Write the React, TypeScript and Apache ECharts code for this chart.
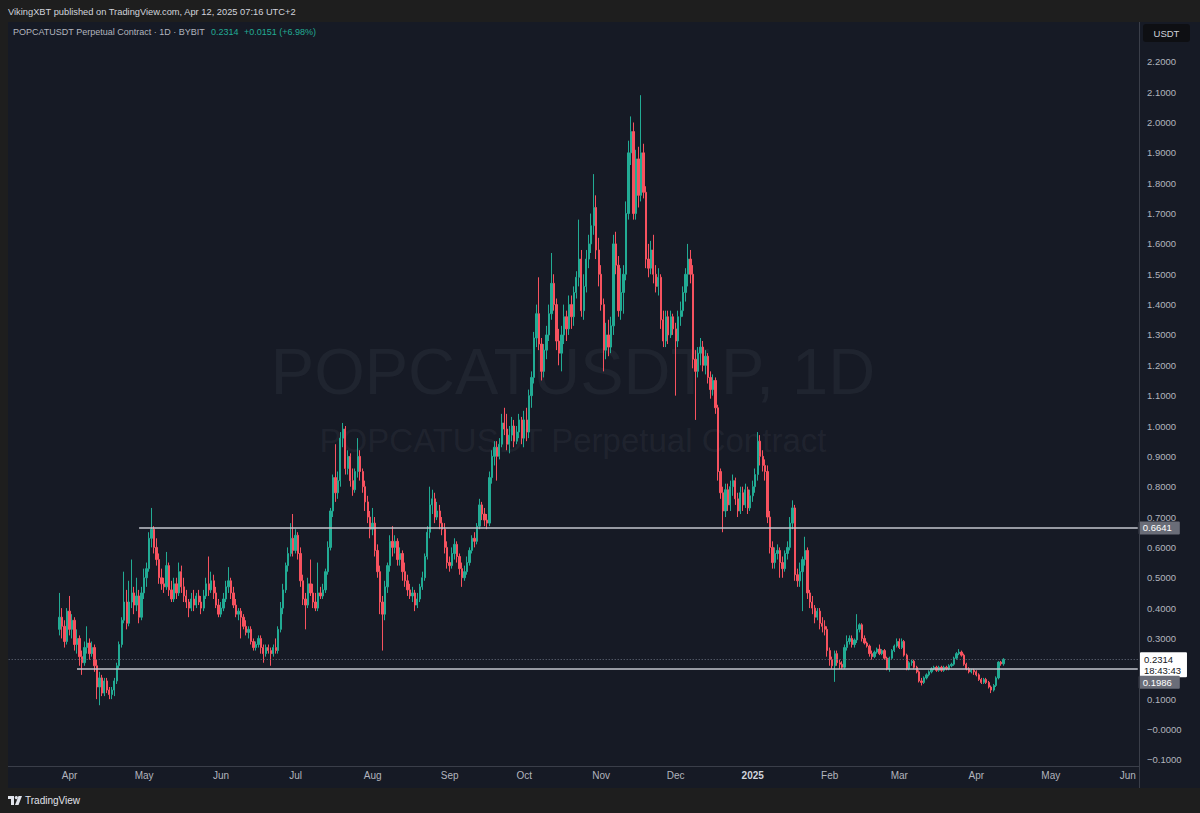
import React, { useEffect, useRef } from 'react';
import * as echarts from 'echarts';

// ---------- DATA (daily candles: [open, close, low, high]) ----------
const mar2024 = [
  [0.33, 0.37, 0.31, 0.45], [0.37, 0.34, 0.30, 0.40], [0.34, 0.29, 0.27, 0.36], [0.29, 0.39, 0.28, 0.40],
];
const apr2024 = [
  [0.39, 0.33, 0.31, 0.44], [0.33, 0.36, 0.30, 0.38], [0.36, 0.28, 0.26, 0.37], [0.28, 0.30, 0.25, 0.33],
  [0.30, 0.24, 0.21, 0.31], [0.24, 0.22, 0.18, 0.26], [0.22, 0.27, 0.21, 0.29], [0.27, 0.285, 0.25, 0.34],
  [0.285, 0.25, 0.23, 0.30], [0.25, 0.27, 0.24, 0.29], [0.27, 0.21, 0.19, 0.28], [0.21, 0.14, 0.10, 0.23],
  [0.14, 0.17, 0.08, 0.19], [0.17, 0.12, 0.11, 0.18], [0.12, 0.16, 0.11, 0.17], [0.16, 0.13, 0.12, 0.17],
  [0.13, 0.115, 0.10, 0.14], [0.115, 0.13, 0.10, 0.14], [0.13, 0.16, 0.11, 0.17], [0.16, 0.21, 0.15, 0.22],
  [0.21, 0.28, 0.20, 0.29], [0.28, 0.36, 0.27, 0.37], [0.36, 0.42, 0.35, 0.52], [0.42, 0.35, 0.33, 0.46],
  [0.35, 0.42, 0.34, 0.49], [0.42, 0.45, 0.40, 0.56], [0.45, 0.41, 0.38, 0.47], [0.41, 0.44, 0.39, 0.50],
  [0.44, 0.37, 0.35, 0.46], [0.37, 0.45, 0.36, 0.47],
];
const may2024 = [
  [0.45, 0.50, 0.43, 0.53], [0.50, 0.53, 0.47, 0.55], [0.53, 0.63, 0.52, 0.65], [0.63, 0.66, 0.60, 0.73],
  [0.66, 0.60, 0.58, 0.67], [0.60, 0.56, 0.54, 0.63], [0.56, 0.50, 0.48, 0.58], [0.50, 0.48, 0.46, 0.53],
  [0.48, 0.47, 0.45, 0.50], [0.47, 0.54, 0.46, 0.585], [0.54, 0.46, 0.44, 0.55], [0.46, 0.43, 0.42, 0.49],
  [0.43, 0.48, 0.42, 0.50], [0.48, 0.45, 0.43, 0.50], [0.45, 0.52, 0.44, 0.55], [0.52, 0.47, 0.45, 0.54],
  [0.47, 0.44, 0.42, 0.50], [0.44, 0.42, 0.40, 0.46], [0.42, 0.40, 0.37, 0.43], [0.40, 0.43, 0.39, 0.45],
  [0.43, 0.41, 0.39, 0.46], [0.41, 0.44, 0.40, 0.45], [0.44, 0.42, 0.41, 0.46], [0.42, 0.40, 0.38, 0.44],
  [0.40, 0.44, 0.39, 0.46], [0.44, 0.48, 0.43, 0.50], [0.48, 0.46, 0.44, 0.57], [0.46, 0.49, 0.45, 0.52],
  [0.49, 0.45, 0.43, 0.51], [0.45, 0.41, 0.40, 0.47], [0.41, 0.38, 0.37, 0.43],
];
const jun2024 = [
  [0.38, 0.40, 0.37, 0.42], [0.40, 0.43, 0.39, 0.45], [0.43, 0.47, 0.42, 0.49], [0.47, 0.49, 0.45, 0.535],
  [0.49, 0.45, 0.43, 0.50], [0.45, 0.41, 0.40, 0.47], [0.41, 0.38, 0.37, 0.43], [0.38, 0.39, 0.36, 0.40],
  [0.39, 0.37, 0.30, 0.40], [0.37, 0.34, 0.33, 0.38], [0.34, 0.32, 0.31, 0.36], [0.32, 0.33, 0.30, 0.34],
  [0.33, 0.29, 0.28, 0.34], [0.29, 0.27, 0.26, 0.30], [0.27, 0.28, 0.26, 0.29], [0.28, 0.30, 0.27, 0.31],
  [0.30, 0.27, 0.25, 0.31], [0.27, 0.25, 0.22, 0.28], [0.25, 0.27, 0.24, 0.28], [0.27, 0.26, 0.25, 0.28],
  [0.26, 0.25, 0.21, 0.27], [0.25, 0.27, 0.24, 0.28], [0.27, 0.26, 0.25, 0.30], [0.26, 0.33, 0.25, 0.34],
  [0.33, 0.40, 0.32, 0.42], [0.40, 0.46, 0.38, 0.48], [0.46, 0.54, 0.45, 0.55], [0.54, 0.58, 0.52, 0.60],
  [0.58, 0.63, 0.57, 0.68], [0.63, 0.59, 0.57, 0.71],
];
const jul2024 = [
  [0.59, 0.64, 0.58, 0.66], [0.64, 0.58, 0.56, 0.65], [0.58, 0.49, 0.47, 0.60], [0.49, 0.43, 0.41, 0.51],
  [0.43, 0.41, 0.33, 0.45], [0.41, 0.48, 0.40, 0.50], [0.48, 0.45, 0.44, 0.56], [0.45, 0.42, 0.40, 0.48],
  [0.42, 0.40, 0.39, 0.45], [0.40, 0.45, 0.39, 0.55], [0.45, 0.44, 0.43, 0.47], [0.44, 0.46, 0.43, 0.48],
  [0.46, 0.52, 0.45, 0.53], [0.52, 0.60, 0.51, 0.62], [0.60, 0.72, 0.59, 0.73], [0.72, 0.83, 0.70, 0.84],
  [0.83, 0.78, 0.75, 0.94], [0.78, 0.82, 0.76, 0.85], [0.82, 0.96, 0.80, 0.98], [0.96, 0.99, 0.93, 1.01],
  [0.99, 0.86, 0.84, 1.00], [0.86, 0.90, 0.84, 0.92], [0.90, 0.82, 0.80, 0.91], [0.82, 0.79, 0.77, 0.86],
  [0.79, 0.85, 0.78, 0.86], [0.85, 0.90, 0.83, 0.96], [0.90, 0.85, 0.82, 0.92], [0.85, 0.80, 0.78, 0.86],
  [0.80, 0.75, 0.72, 0.82], [0.75, 0.70, 0.68, 0.77], [0.70, 0.66, 0.63, 0.72],
];
const aug2024 = [
  [0.66, 0.68, 0.64, 0.73], [0.68, 0.59, 0.57, 0.70], [0.59, 0.52, 0.50, 0.61], [0.52, 0.42, 0.38, 0.54],
  [0.42, 0.38, 0.26, 0.44], [0.38, 0.47, 0.36, 0.49], [0.47, 0.54, 0.45, 0.55], [0.54, 0.62, 0.52, 0.64],
  [0.62, 0.60, 0.57, 0.67], [0.60, 0.62, 0.58, 0.64], [0.62, 0.56, 0.54, 0.63], [0.56, 0.58, 0.54, 0.60],
  [0.58, 0.52, 0.49, 0.59], [0.52, 0.49, 0.47, 0.55], [0.49, 0.46, 0.44, 0.51], [0.46, 0.44, 0.43, 0.48],
  [0.44, 0.45, 0.42, 0.47], [0.45, 0.41, 0.39, 0.46], [0.41, 0.43, 0.40, 0.45], [0.43, 0.47, 0.42, 0.48],
  [0.47, 0.50, 0.46, 0.52], [0.50, 0.57, 0.49, 0.58], [0.57, 0.65, 0.56, 0.67], [0.65, 0.74, 0.63, 0.80],
  [0.74, 0.76, 0.71, 0.79], [0.76, 0.70, 0.68, 0.78], [0.70, 0.72, 0.69, 0.75], [0.72, 0.68, 0.66, 0.74],
  [0.68, 0.66, 0.64, 0.70], [0.66, 0.60, 0.58, 0.68], [0.60, 0.55, 0.53, 0.62],
];
const sep2024 = [
  [0.55, 0.54, 0.52, 0.57], [0.54, 0.58, 0.53, 0.60], [0.58, 0.61, 0.56, 0.63], [0.61, 0.57, 0.55, 0.62],
  [0.57, 0.53, 0.51, 0.58], [0.53, 0.50, 0.47, 0.55], [0.50, 0.52, 0.49, 0.54], [0.52, 0.55, 0.51, 0.57],
  [0.55, 0.59, 0.54, 0.60], [0.59, 0.63, 0.58, 0.64], [0.63, 0.62, 0.60, 0.65], [0.62, 0.67, 0.61, 0.68],
  [0.67, 0.74, 0.66, 0.76], [0.74, 0.71, 0.69, 0.75], [0.71, 0.69, 0.67, 0.73], [0.69, 0.68, 0.66, 0.71],
  [0.68, 0.83, 0.67, 0.85], [0.83, 0.90, 0.81, 0.92], [0.90, 0.93, 0.87, 0.95], [0.93, 0.90, 0.82, 0.95],
  [0.90, 0.94, 0.89, 0.96], [0.94, 1.01, 0.93, 1.04], [1.01, 0.99, 0.97, 1.06], [0.99, 0.94, 0.92, 1.04],
  [0.94, 0.97, 0.91, 1.00], [0.97, 1.00, 0.95, 1.03], [1.00, 0.95, 0.93, 1.02], [0.95, 0.98, 0.94, 1.00],
  [0.98, 1.02, 0.96, 1.04], [1.02, 0.96, 0.94, 1.03],
];
const oct2024 = [
  [0.96, 1.02, 0.93, 1.05], [1.02, 0.98, 0.95, 1.06], [0.98, 1.10, 0.96, 1.12], [1.10, 1.16, 1.06, 1.18],
  [1.16, 1.29, 1.14, 1.31], [1.29, 1.37, 1.26, 1.40], [1.37, 1.27, 1.25, 1.49], [1.27, 1.18, 1.15, 1.29],
  [1.18, 1.25, 1.16, 1.27], [1.25, 1.30, 1.22, 1.33], [1.30, 1.37, 1.28, 1.40], [1.37, 1.47, 1.35, 1.57],
  [1.47, 1.40, 1.38, 1.50], [1.40, 1.28, 1.25, 1.42], [1.28, 1.24, 1.20, 1.32], [1.24, 1.30, 1.18, 1.33],
  [1.30, 1.36, 1.27, 1.40], [1.36, 1.32, 1.28, 1.38], [1.32, 1.40, 1.30, 1.43], [1.40, 1.36, 1.32, 1.43],
  [1.36, 1.44, 1.33, 1.46], [1.44, 1.49, 1.42, 1.51], [1.49, 1.55, 1.46, 1.68], [1.55, 1.38, 1.36, 1.58],
  [1.38, 1.46, 1.35, 1.50], [1.46, 1.55, 1.44, 1.58], [1.55, 1.60, 1.52, 1.63], [1.60, 1.66, 1.57, 1.70],
  [1.66, 1.72, 1.63, 1.83], [1.72, 1.58, 1.55, 1.76], [1.58, 1.50, 1.46, 1.62],
];
const nov2024 = [
  [1.50, 1.40, 1.38, 1.53], [1.40, 1.25, 1.18, 1.42], [1.25, 1.30, 1.22, 1.34], [1.30, 1.26, 1.23, 1.35],
  [1.26, 1.33, 1.24, 1.36], [1.33, 1.60, 1.30, 1.63], [1.60, 1.53, 1.50, 1.64], [1.53, 1.38, 1.36, 1.56],
  [1.38, 1.44, 1.35, 1.52], [1.44, 1.50, 1.37, 1.53], [1.50, 1.70, 1.48, 1.74], [1.70, 1.90, 1.68, 1.94],
  [1.90, 1.97, 1.86, 2.02], [1.97, 1.70, 1.68, 2.00], [1.70, 1.88, 1.68, 1.91], [1.88, 1.76, 1.72, 1.92],
  [1.76, 1.90, 1.74, 2.09], [1.90, 1.77, 1.75, 1.93], [1.77, 1.55, 1.52, 1.79], [1.55, 1.52, 1.49, 1.60],
  [1.52, 1.58, 1.50, 1.61], [1.58, 1.50, 1.47, 1.63], [1.50, 1.46, 1.44, 1.53], [1.46, 1.49, 1.43, 1.52],
  [1.49, 1.35, 1.32, 1.50], [1.35, 1.28, 1.26, 1.38], [1.28, 1.36, 1.26, 1.38], [1.36, 1.30, 1.27, 1.38],
  [1.30, 1.36, 1.29, 1.38], [1.36, 1.32, 1.30, 1.37],
];
const dec2024 = [
  [1.32, 1.28, 1.10, 1.34], [1.28, 1.36, 1.26, 1.38], [1.36, 1.38, 1.33, 1.41], [1.38, 1.44, 1.36, 1.46],
  [1.44, 1.50, 1.41, 1.52], [1.50, 1.55, 1.46, 1.60], [1.55, 1.50, 1.47, 1.58], [1.50, 1.22, 1.19, 1.53],
  [1.22, 1.18, 1.02, 1.25], [1.18, 1.24, 1.16, 1.26], [1.24, 1.26, 1.20, 1.29], [1.26, 1.20, 1.18, 1.28],
  [1.20, 1.23, 1.17, 1.25], [1.23, 1.16, 1.14, 1.24], [1.16, 1.12, 1.09, 1.18], [1.12, 1.15, 1.10, 1.17],
  [1.15, 1.06, 1.04, 1.16], [1.06, 0.85, 0.82, 1.07], [0.85, 0.78, 0.76, 0.86], [0.78, 0.72, 0.65, 0.80],
  [0.72, 0.79, 0.70, 0.81], [0.79, 0.74, 0.72, 0.81], [0.74, 0.80, 0.72, 0.82], [0.80, 0.82, 0.77, 0.84],
  [0.82, 0.76, 0.74, 0.83], [0.76, 0.72, 0.70, 0.78], [0.72, 0.78, 0.71, 0.80], [0.78, 0.74, 0.72, 0.80],
  [0.74, 0.79, 0.73, 0.81], [0.79, 0.73, 0.71, 0.80], [0.73, 0.77, 0.72, 0.79],
];
const jan2025 = [
  [0.77, 0.80, 0.75, 0.82], [0.80, 0.84, 0.78, 0.86], [0.84, 0.95, 0.82, 0.98], [0.95, 0.90, 0.87, 0.97],
  [0.90, 0.87, 0.85, 0.92], [0.87, 0.85, 0.82, 0.89], [0.85, 0.70, 0.68, 0.87], [0.70, 0.60, 0.58, 0.72],
  [0.60, 0.55, 0.53, 0.62], [0.55, 0.58, 0.53, 0.60], [0.58, 0.59, 0.56, 0.61], [0.59, 0.55, 0.50, 0.60],
  [0.55, 0.53, 0.50, 0.57], [0.53, 0.58, 0.52, 0.59], [0.58, 0.60, 0.56, 0.62], [0.60, 0.68, 0.59, 0.70],
  [0.68, 0.73, 0.66, 0.755], [0.73, 0.51, 0.49, 0.74], [0.51, 0.49, 0.47, 0.53], [0.49, 0.52, 0.47, 0.55],
  [0.52, 0.56, 0.39, 0.57], [0.56, 0.59, 0.54, 0.635], [0.59, 0.45, 0.43, 0.60], [0.45, 0.42, 0.40, 0.46],
  [0.42, 0.40, 0.38, 0.44], [0.40, 0.37, 0.35, 0.41], [0.37, 0.39, 0.36, 0.40], [0.39, 0.35, 0.33, 0.40],
  [0.35, 0.34, 0.32, 0.37], [0.34, 0.33, 0.31, 0.36], [0.33, 0.26, 0.24, 0.34],
];
const feb2025 = [
  [0.26, 0.23, 0.21, 0.27], [0.23, 0.21, 0.20, 0.24], [0.21, 0.25, 0.157, 0.26], [0.25, 0.22, 0.21, 0.26],
  [0.22, 0.215, 0.20, 0.23], [0.215, 0.205, 0.20, 0.225], [0.205, 0.27, 0.20, 0.28], [0.27, 0.29, 0.26, 0.31],
  [0.29, 0.30, 0.28, 0.31], [0.30, 0.28, 0.27, 0.31], [0.28, 0.295, 0.27, 0.30], [0.295, 0.33, 0.285, 0.38],
  [0.33, 0.345, 0.32, 0.35], [0.345, 0.30, 0.29, 0.35], [0.30, 0.285, 0.28, 0.31], [0.285, 0.275, 0.27, 0.29],
  [0.275, 0.25, 0.24, 0.28], [0.25, 0.24, 0.23, 0.26], [0.24, 0.255, 0.235, 0.26], [0.255, 0.265, 0.25, 0.27],
  [0.265, 0.25, 0.245, 0.28], [0.25, 0.26, 0.245, 0.265], [0.26, 0.235, 0.23, 0.265], [0.235, 0.20, 0.195, 0.24],
  [0.20, 0.235, 0.19, 0.24], [0.235, 0.26, 0.23, 0.265], [0.26, 0.275, 0.255, 0.28], [0.275, 0.29, 0.27, 0.30],
];
const mar2025 = [
  [0.29, 0.27, 0.265, 0.30], [0.27, 0.29, 0.265, 0.30], [0.29, 0.245, 0.24, 0.295], [0.245, 0.20, 0.195, 0.25],
  [0.20, 0.22, 0.195, 0.225], [0.22, 0.225, 0.21, 0.23], [0.225, 0.205, 0.20, 0.23], [0.205, 0.19, 0.185, 0.21],
  [0.19, 0.16, 0.155, 0.195], [0.16, 0.155, 0.145, 0.17], [0.155, 0.17, 0.15, 0.175], [0.17, 0.18, 0.165, 0.185],
  [0.18, 0.19, 0.175, 0.195], [0.19, 0.20, 0.185, 0.205], [0.20, 0.205, 0.195, 0.21], [0.205, 0.195, 0.19, 0.21],
  [0.195, 0.205, 0.19, 0.21], [0.205, 0.195, 0.19, 0.21], [0.195, 0.205, 0.19, 0.21], [0.205, 0.20, 0.195, 0.21],
  [0.20, 0.21, 0.195, 0.215], [0.21, 0.215, 0.205, 0.22], [0.215, 0.235, 0.21, 0.24], [0.235, 0.25, 0.23, 0.255],
  [0.25, 0.255, 0.245, 0.265], [0.255, 0.245, 0.24, 0.26], [0.245, 0.215, 0.21, 0.25], [0.215, 0.20, 0.195, 0.22],
  [0.20, 0.19, 0.185, 0.205], [0.19, 0.195, 0.185, 0.20], [0.195, 0.19, 0.18, 0.20],
];
const apr2025 = [
  [0.19, 0.18, 0.175, 0.195], [0.18, 0.165, 0.16, 0.185], [0.165, 0.155, 0.15, 0.17], [0.155, 0.165, 0.15, 0.17],
  [0.165, 0.155, 0.15, 0.17], [0.155, 0.14, 0.135, 0.16], [0.14, 0.13, 0.12, 0.145], [0.13, 0.145, 0.125, 0.15],
  [0.145, 0.17, 0.14, 0.175], [0.17, 0.222, 0.165, 0.225], [0.222, 0.2163, 0.21, 0.226], [0.2163, 0.2314, 0.21, 0.235],
];
const monthBlocks: [string, number[][]][] = [
  ['2024-03-28', mar2024], ['2024-04-01', apr2024], ['2024-05-01', may2024], ['2024-06-01', jun2024],
  ['2024-07-01', jul2024], ['2024-08-01', aug2024], ['2024-09-01', sep2024], ['2024-10-01', oct2024],
  ['2024-11-01', nov2024], ['2024-12-01', dec2024], ['2025-01-01', jan2025], ['2025-02-01', feb2025],
  ['2025-03-01', mar2025], ['2025-04-01', apr2025],
];

const axisStart = '2024-03-08';
const axisDayCount = 455;
const monthLabels = ['Jan', 'Feb', 'Mar', 'Apr', 'May', 'Jun', 'Jul', 'Aug', 'Sep', 'Oct', 'Nov', 'Dec'];

const levelHigh = 0.6641;
const levelHighFrom = '2024-04-29';
const levelLow = 0.1986;
const levelLowFrom = '2024-04-04';
const lastPrice = 0.2314;
const lastChange = '+0.0151 (+6.98%)';
const countdown = '18:43:43';
const hiddenTicks = [0.2]; // tick label covered by the price boxes in the original

const yMin = -0.1;
const yMax = 2.2;
const yStep = 0.1;

const UP = '#22ab94';
const DOWN = '#f7525f';
const FONT = '"Liberation Sans", Arial, sans-serif';

const DAY = 86400000;

function buildCategories(): string[] {
  const s = Date.parse(axisStart + 'T00:00:00Z');
  const out: string[] = [];
  for (let i = 0; i < axisDayCount; i++) out.push(new Date(s + i * DAY).toISOString().slice(0, 10));
  return out;
}

function dayIndex(dateStr: string): number {
  const s = Date.parse(axisStart + 'T00:00:00Z');
  return Math.round((Date.parse(dateStr + 'T00:00:00Z') - s) / DAY);
}

function buildCandles(): number[][] {
  const out: number[][] = [];
  monthBlocks.forEach(([start, rows]) => {
    const base = dayIndex(start);
    rows.forEach((r, i) => out.push([base + i, r[0], r[1], r[2], r[3]]));
  });
  return out;
}

export default function App() {
  const ref = useRef<HTMLDivElement>(null);

  useEffect(() => {
    if (!ref.current) return;
    const chart = echarts.init(ref.current, undefined, { renderer: 'svg' });
    const categories = buildCategories();
    const candles = buildCandles();
    const lastIdx = categories.length - 1;

    const tvLogo = [
      { type: 'rect', shape: { x: 8, y: 796, width: 6, height: 3 }, style: { fill: '#e0e3eb' }, z: 10 },
      { type: 'rect', shape: { x: 11, y: 796, width: 3, height: 9 }, style: { fill: '#e0e3eb' }, z: 10 },
      { type: 'circle', shape: { cx: 16.3, cy: 797.6, r: 1.6 }, style: { fill: '#e0e3eb' }, z: 10 },
      { type: 'polygon', shape: { points: [[18.5, 796], [22, 796], [18.5, 805], [15, 805]] }, style: { fill: '#e0e3eb' }, z: 10 },
    ];

    const option: any = {
      animation: false,
      backgroundColor: '#161a25',
      textStyle: { fontFamily: FONT },
      grid: { left: 8.7, right: 61, top: 61.8, bottom: 53.15, containLabel: false },
      xAxis: {
        type: 'category',
        data: categories,
        boundaryGap: true,
        axisLine: { show: false },
        axisTick: { show: false },
        splitLine: { show: false },
        axisLabel: {
          interval: (_i: number, v: string) => v.slice(8, 10) === '01',
          margin: 11,
          color: '#b2b5be',
          fontSize: 10,
          fontFamily: FONT,
          formatter: (v: string) => {
            const m = parseInt(v.slice(5, 7), 10) - 1;
            if (m === 0) return '{b|' + v.slice(0, 4) + '}';
            return monthLabels[m];
          },
          rich: { b: { fontWeight: 'bold', color: '#d1d4dc', fontSize: 10, fontFamily: FONT } },
        },
      },
      yAxis: {
        type: 'value',
        position: 'right',
        min: yMin,
        max: yMax,
        interval: yStep,
        scale: false,
        axisLine: { show: false },
        axisTick: { show: false },
        splitLine: { show: false },
        axisLabel: {
          margin: 8,
          color: '#b2b5be',
          fontSize: 9.5,
          fontFamily: FONT,
          formatter: (v: number) => {
            if (hiddenTicks.some((h) => Math.abs(h - v) < 1e-9)) return '';
            if (Math.abs(v) < 1e-9) return '\u22120.0000';
            if (v < 0) return '\u2212' + Math.abs(v).toFixed(4);
            return v.toFixed(4);
          },
        },
      },
      series: [
        {
          type: 'candlestick',
          data: candles,
          encode: { x: 0, y: [1, 2, 3, 4] },
          barWidth: '72%',
          z: 3,
          itemStyle: { color: UP, color0: DOWN, borderColor: UP, borderColor0: DOWN, borderWidth: 1 },
          markLine: {
            symbol: ['none', 'none'],
            silent: true,
            z: 4,
            data: [
              { yAxis: lastPrice,
                lineStyle: { type: [1, 2], color: '#6b7280', width: 1 },
                label: { show: true, position: 'end', distance: 1, formatter: lastPrice.toFixed(4) + '\n' + countdown,
                  backgroundColor: '#ffffff', color: '#131722', fontSize: 9.5, lineHeight: 11, fontFamily: FONT,
                  padding: [2, 6, 1, 4], borderRadius: 1, offset: [0, 5] } },
              [
                { coord: [dayIndex(levelHighFrom), levelHigh],
                  lineStyle: { type: 'solid', color: '#c3c6ce', width: 1.5 },
                  label: { show: true, position: 'end', distance: 1, formatter: levelHigh.toFixed(4),
                    backgroundColor: '#6a6d78', color: '#ffffff', fontSize: 9.5, fontFamily: FONT,
                    padding: [2, 8, 1, 4], borderRadius: 1 } },
                { coord: [lastIdx, levelHigh] },
              ],
              [
                { coord: [dayIndex(levelLowFrom), levelLow],
                  lineStyle: { type: 'solid', color: '#c3c6ce', width: 1.5 },
                  label: { show: true, position: 'end', distance: 1, formatter: levelLow.toFixed(4),
                    backgroundColor: '#6a6d78', color: '#ffffff', fontSize: 9.5, fontFamily: FONT,
                    padding: [2, 8, 1, 4], borderRadius: 1, offset: [0, 13] } },
                { coord: [lastIdx, levelLow] },
              ],
            ],
          },
        },
      ],
      graphic: [
        // frame strips
        { type: 'rect', shape: { x: 0, y: 0, width: 1200, height: 22 }, style: { fill: '#1e1e1e' }, z: 1 },
        { type: 'rect', shape: { x: 0, y: 22, width: 8, height: 766 }, style: { fill: '#1e1e1e' }, z: 1 },
        { type: 'rect', shape: { x: 0, y: 788, width: 1200, height: 25 }, style: { fill: '#1e1e1e' }, z: 1 },
        // separators
        { type: 'line', shape: { x1: 8, y1: 766.5, x2: 1139, y2: 766.5 }, style: { stroke: '#3a3e49', lineWidth: 1 }, z: 5 },
        { type: 'line', shape: { x1: 1139.5, y1: 22, x2: 1139.5, y2: 788 }, style: { stroke: '#3a3e49', lineWidth: 1 }, z: 5 },
        // header
        { type: 'text', x: 8, y: 12, style: { text: 'VikingXBT published on TradingView.com, Apr 12, 2025 07:16 UTC+2',
            fill: '#d1d4dc', font: '9.3px ' + FONT, textVerticalAlign: 'middle' }, z: 10 },
        // legend
        { type: 'text', x: 13, y: 32, style: { text: 'POPCATUSDT Perpetual Contract \u00b7 1D \u00b7 BYBIT',
            fill: '#b2b5be', font: '9px ' + FONT, textVerticalAlign: 'middle' }, z: 10 },
        { type: 'text', x: 211, y: 32, style: { text: lastPrice.toFixed(4), fill: UP, font: '9px ' + FONT, textVerticalAlign: 'middle' }, z: 10 },
        { type: 'text', x: 244, y: 32, style: { text: lastChange, fill: UP, font: '9px ' + FONT, textVerticalAlign: 'middle' }, z: 10 },
        // watermark
        { type: 'text', x: 573, y: 371, style: { text: 'POPCATUSDT.P, 1D', fill: 'rgba(120,123,134,0.10)',
            font: '65px ' + FONT, textAlign: 'center', textVerticalAlign: 'middle' }, z: 0 },
        { type: 'text', x: 573, y: 440, style: { text: 'POPCATUSDT Perpetual Contract', fill: 'rgba(120,123,134,0.10)',
            font: '33px ' + FONT, textAlign: 'center', textVerticalAlign: 'middle' }, z: 0 },
        // currency box
        { type: 'rect', shape: { x: 1143, y: 24, width: 47, height: 18, r: 3 }, style: { fill: '#0e0f13' }, z: 10 },
        { type: 'text', x: 1166.5, y: 33, style: { text: 'USDT', fill: '#d1d4dc', font: '9.5px ' + FONT,
            textAlign: 'center', textVerticalAlign: 'middle' }, z: 11 },
        // footer logo
        ...tvLogo,
        { type: 'text', x: 25, y: 800.5, style: { text: 'TradingView', fill: '#e0e3eb', font: '10px ' + FONT,
            textVerticalAlign: 'middle' }, z: 10 },
      ],
    };

    chart.setOption(option);
    return () => chart.dispose();
  }, []);

  return <div ref={ref} style={{ position: 'fixed', left: 0, top: 0, width: 1200, height: 813 }} />;
}
